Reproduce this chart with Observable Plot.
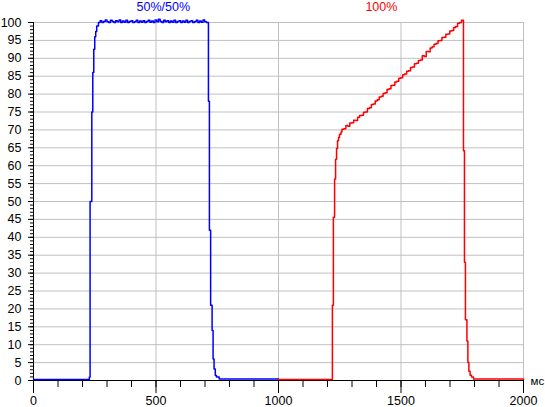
<!DOCTYPE html>
<html>
<head>
<meta charset="utf-8">
<script src="https://cdn.jsdelivr.net/npm/d3@7"></script>
<script src="https://cdn.jsdelivr.net/npm/@observablehq/plot@0.6"></script>
<style>
  html, body { margin: 0; padding: 0; background: #ffffff; }
  #chart { width: 545px; height: 407px; overflow: hidden; }
</style>
</head>
<body>
<div id="chart"></div>
<script>
// ---- Data ----
const blueT = [0, 228, 231, 238, 242, 246, 250, 254, 258, 265,
  272, 279, 286, 293, 300, 307, 314, 321, 328, 335, 342, 349, 356, 363, 370, 377, 384, 391, 398,
  405, 412, 419, 426, 433, 440, 447, 454, 461, 468, 475, 482, 489, 496, 503, 510, 517, 524, 531,
  538, 545, 552, 559, 566, 573, 580, 587, 594, 601, 608, 615, 622, 629, 636, 643, 650, 657, 664,
  671, 678, 685, 692, 699, 706,
  714, 718, 723, 729, 733, 737, 742, 747, 758, 1000];
const blueV = [0.3, 1, 50, 75, 86, 92.5, 96, 97.5, 99, 100,
  100.5, 100, 100.3, 100.7, 100.2, 100, 100.6, 100.3, 100, 100.5, 100.2, 100.7, 100, 100.4, 100.1, 100.6, 100, 100.3, 100.5,
  100, 100.2, 100.6, 100, 100.4, 100.1, 100.5, 100, 100.3, 100.6, 100.1, 100.4, 100, 100.7, 100.2, 100.9, 100.3, 100, 100.6,
  100.2, 100.5, 100, 100.4, 100.1, 100.6, 100, 100.3, 100.5, 100, 100.4, 100.1, 100.6, 100, 100.3, 100.5, 100, 100.2, 100.6,
  100, 100.4, 100.1, 100.7, 100.2, 100,
  78, 42, 21, 14, 6, 3.2, 1.4, 1.0, 0.4, 0.3];

const redT = [1000, 1220, 1224, 1229, 1233, 1237, 1241, 1245, 1249, 1255, 1259,
  1267, 1275, 1283, 1291, 1299, 1307, 1315, 1323, 1331, 1339, 1347, 1355, 1363, 1371, 1379, 1387,
  1395, 1403, 1411, 1419, 1427, 1435, 1443, 1451, 1459, 1467, 1475, 1483, 1491, 1499, 1507, 1515,
  1523, 1531, 1539, 1547, 1555, 1563, 1571, 1579, 1587, 1595, 1603, 1611, 1619, 1627, 1635, 1643,
  1651, 1659, 1667, 1675, 1683, 1691, 1699, 1707, 1715, 1723, 1731, 1739, 1747,
  1755, 1759, 1763, 1769, 1773, 1777, 1782, 1788, 1796, 2000];
const redV = [0.3, 21, 45.6, 56.3, 61.8, 64.8, 67, 67.9, 68.8, 69.4, 70.2,
  70.3, 71.2, 71.0, 71.9, 72.0, 72.7, 72.6, 73.5, 74.0, 74.1, 74.9, 75.0, 76.0, 76.2, 77.1, 77.2,
  78.1, 78.4, 79.2, 79.4, 80.2, 80.4, 81.3, 81.5, 82.4, 82.5, 83.4, 83.6, 84.4, 84.6, 85.4, 85.6,
  86.4, 86.5, 87.4, 87.6, 88.5, 88.6, 89.4, 89.5, 90.7, 90.5, 91.9, 91.8, 92.9, 93.2, 93.9, 94.1,
  94.9, 95.0, 95.8, 95.9, 96.7, 96.8, 97.6, 97.8, 98.6, 98.9, 99.8, 100.0, 100.6,
  64.2, 33, 17, 11, 5, 2.6, 1.5, 1.0, 0.4, 0.3];

const seriesNames = ["50%/50%", "100%"];
const seriesColors = ["#0000ff", "#ff0000"];
const seriesLabelX = [530, 1420];

const xTickLabels = [0, 500, 1000, 1500, 2000];
const xMinorTicks = [0, 100, 200, 300, 400, 500, 600, 700, 800, 900, 1000, 1100, 1200, 1300, 1400, 1500, 1600, 1700, 1800, 1900, 2000];
const yTickLabels = [0, 5, 10, 15, 20, 25, 30, 35, 40, 45, 50, 55, 60, 65, 70, 75, 80, 85, 90, 95, 100];
const yMinorTicks = d3.range(0, 101, 1);
const xUnit = "мс";

// ---- Build tables ----
const blue = blueT.map((t, i) => ({t, v: blueV[i]}));
const red = redT.map((t, i) => ({t, v: redV[i]}));
const titles = seriesNames.map((name, i) => ({name, x: seriesLabelX[i], color: seriesColors[i]}));

const grid = "#c0c0c0";

const chart = Plot.plot({
  width: 545,
  height: 407,
  marginLeft: 33,
  marginRight: 22,
  marginTop: 22,
  marginBottom: 27,
  x: {domain: [0, 2000]},
  y: {domain: [0, 100]},
  style: {
    fontFamily: "'Liberation Sans', Arial, sans-serif",
    fontSize: "12.5px",
    color: "#000000",
    background: "#ffffff",
    overflow: "visible"
  },
  marks: [
    Plot.ruleY(yTickLabels.filter(d => d > 0), {stroke: grid, strokeOpacity: 1}),
    Plot.ruleX(xTickLabels.filter(d => d > 0), {stroke: grid, strokeOpacity: 1}),
    Plot.axisY({ticks: yMinorTicks, tickSize: 3, tickFormat: () => "", label: null, strokeOpacity: 1}),
    Plot.axisY({ticks: yTickLabels, tickSize: 5, tickPadding: 7, label: null, strokeOpacity: 1, fill: "#000"}),
    Plot.axisX({ticks: xMinorTicks, tickSize: 7, tickFormat: () => "", label: null, strokeOpacity: 1}),
    Plot.axisX({ticks: xTickLabels, tickSize: 13, tickPadding: 3, tickFormat: d => String(d), label: null, strokeOpacity: 1, fill: "#000"}),
    Plot.ruleX([0], {stroke: "#000", strokeOpacity: 1}),
    Plot.ruleY([0], {stroke: "#000", strokeOpacity: 1}),
    Plot.line(blue, {x: "t", y: "v", stroke: seriesColors[0], strokeWidth: 1.5, curve: "step-after"}),
    Plot.line(red, {x: "t", y: "v", stroke: seriesColors[1], strokeWidth: 1.5, curve: "step-after"}),
    Plot.text(titles, {x: "x", frameAnchor: "top", text: "name", fill: "color", dy: -16, lineAnchor: "middle", fontSize: 12.5}),
    Plot.text([xUnit], {x: () => 2000, y: () => 0, text: d => d, textAnchor: "start", dx: 7, dy: 1, lineAnchor: "middle", fill: "#000", fontSize: 11.5})
  ]
});
document.getElementById("chart").appendChild(chart);
</script>
</body>
</html>
